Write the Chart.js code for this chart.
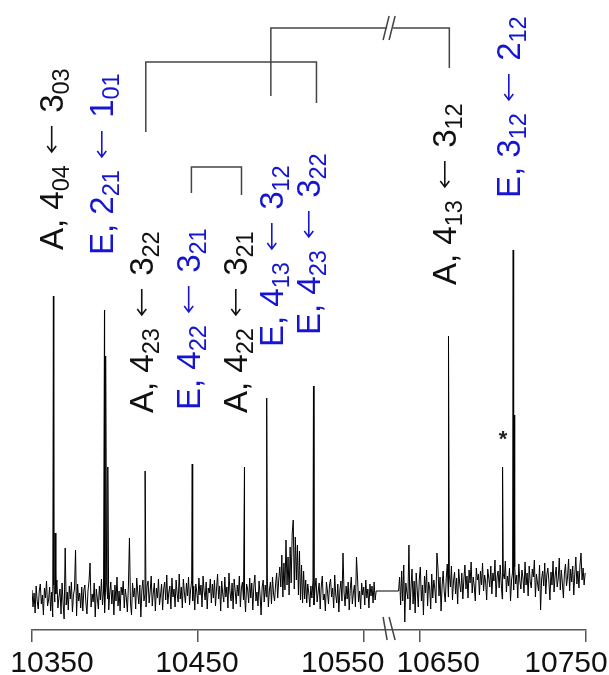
<!DOCTYPE html>
<html>
<head>
<meta charset="utf-8">
<script src="https://cdn.jsdelivr.net/npm/chart.js@4.4.1/dist/chart.umd.min.js"></script>
<style>
  html, body { margin: 0; padding: 0; background: #fff; }
  canvas { display: block; }
</style>
</head>
<body>
<canvas id="spectrum" width="609" height="675"></canvas>
<script>
// two recorded windows, sampled every 0.625 cm-1
const leftStart = 10350, rightStart = 10637, gridStep = 0.625;

// baseline noise, left window (10350 - 10557.5)
const leftNoise = [
  5, -12, 2, -18, 9, -6, -14, 4, 11, -9, 0, -20, 7, -3, 14, -11,
  -5, 8, -16, 3, -22, 10, -7, 1, 15, -13, -2, 6, -19, 12, -8, -24,
  47, -10, 3, -15, 9, -4, 13, -17, 0, 6, 45, -21, 11, -6, 2, -13,
  8, -16, 5, 10, -8, -19, 4, 14, 32, -12, 1, -7, 12, -22, 6, -3,
  -14, 9, -5, 16, -10, 3, -18, 7, 11, -4, -15, 2, 13, -9, 5, -20,
  10, -6, 18, -11, 4, -16, 8, 0, 14, -13, 6, -3, -17, 9, 57, -8,
  -20, 12, -2, 7, -14, 17, 3, -9, 10, -22, 5, 15, -6, 1, -12, 9,
  14, -8, 4, 19, -11, 2, 12, -16, 7, -3, 16, -10, 0, 11, -15, 6,
  13, -5, 20, -9, 3, 9, -14, 17, -2, 6, -12, 15, 1, -7, 21, -4,
  8, -13, 16, 2, -8, 12, -1, 18, -10, 5, 14, -6, 9, -15, 11, 3,
  -9, 17, 0, 10, -12, 19, 4, -5, 13, -14, 7, 2, 16, -8, 11, -3,
  15, -11, 6, 21, -4, 9, -16, 14, 1, -7, 18, -2, 8, -13, 22, 3,
  -6, 12, -14, 16, 4, -9, 10, -1, 19, -12, 7, 13, -5, 2, -17, 11,
  6, -8, 17, -3, 12, -15, 9, 20, -6, 3, -11, 14, 0, -20, 8, 15,
  -7, 10, -2, 16, -12, 5, 13, -9, 18, 1, -6, 11, 22, -3, 15, 28,
  8, 40, -2, 32, 5, 55, 10, 38, 0, 48, 12, 62, 75, 6, 58, 15,
  50, 0, 44, -5, 30, -8, 24, -4, 15, -8, 11, 2, -12, 9, -3, 14,
  -10, 6, 17, -7, 3, 12, -14, 8, 19, -5, 1, -16, 13, 4, -9, 10,
  16, -2, 7, -13, 20, 0, -8, 11, -17, 5, 14, -6, 42, 3, -11, 9,
  -4, 13, -15, 6, 18, -9, 2, 10, -12, 38, 17, -7, 4, -14, 12, 0,
  8, -10, 15, -3, 6, -13, 11, -1, 9, -8, 13, -5, 4
];

// baseline noise, right window (10637 - 10749.5)
const rightNoise = [
  4, 18, -10, 24, -6, 30, -27, 12, 3, -4, 50, -15, 8, 26, -9, 14,
  -18, 22, 5, -12, 16, 28, -6, 10, -20, 19, 2, 25, -11, 13, 7, -14,
  21, -3, 15, 6, -8, 42, 27, -1, 18, -16, 9, 24, 4, -7, 17, 31,
  -2, 20, 8, 29, -5, 14, 23, 1, 17, -9, 26, 11, 3, 22, -4, 16,
  30, 6, 19, -3, 25, 12, 33, 2, 18, 9, -6, 27, 15, 21, 0, 24,
  10, 32, 4, 20, 13, -5, 26, 17, 8, 29, 1, 22, 14, 35, -2, 18,
  24, 7, 30, 12, -4, 21, 16, 34, 3, 19, 9, 27, -6, 15, 23, 5,
  28, 11, 20, -3, 31, 14, 6, 25, 17, 2, 33, 10, 22, -1, 29, 13,
  7, 26, 18, 35, -2, 21, 12, 4, 30, -15, 16, 24, 9, 32, 1, 20,
  27, 14, -5, 23, 10, 34, 3, 19, 28, 8, 16, 37, 5, 25, 12, -3,
  22, 31, 9, 18, 36, 4, 26, 13, 29, 0, 21, 38, 11, 24, 7, 30,
  42, 15, 27, 10, 22
];

// rotational lines (cm-1) and their heights
const linePos = [10362.9, 10363.9, 10393.7, 10394.4, 10395.7, 10418.2, 10446.6,
                 10478.1, 10491.5, 10519.7, 10667.1, 10699.7, 10706.1, 10706.7];
const lineHeight = [299, 62, 285, 239, 128, 124, 131, 128, 197, 209, 259, 128, 345, 180];

// broken axis
const breakAt = 10600, axisGap = 66, breakMark = 10566.5;
const tickValues = [10350, 10450, 10550, 10650, 10750];
const tickLabels = ['10350', '10450', '10550', '10650', '10750'];
const tickNudge = [20, -1, -21, 18, -20];

// assignments
const labelText = [
  'A, 4_{04} ← 3_{03}', 'E, 2_{21} ← 1_{01}', 'A, 4_{23} ← 3_{22}',
  'E, 4_{22} ← 3_{21}', 'A, 4_{22} ← 3_{21}', 'E, 4_{13} ← 3_{12}',
  'E, 4_{23} ← 3_{22}', 'A, 4_{13} ← 3_{12}', 'E, 3_{12} ← 2_{12}'
];
const labelAt = [10368.5, 10398.7, 10422.8, 10451.1, 10479.5, 10501.2, 10523.5, 10671.5, 10710.1];
const labelStart = [250, 255, 413, 410, 413, 347, 335, 285, 198];

const brackets = [
  { from: 10418.6, to: 10521.5, top: 62, left: 132, right: 103 },
  { from: 10494.0, to: 10667.6, top: 28, left: 96, right: 68, cut: true },
  { from: 10446.1, to: 10476.3, top: 167, left: 193, right: 195 }
];

const blue = '#1515d2';
const font = '"Liberation Sans", Arial, sans-serif';
const arrowLen = 26, arrowGap = 4;

const toAxis = w => w > breakAt ? w - axisGap : w;

let points = [];
leftNoise.forEach((v, i) => points.push({ x: leftStart + i * gridStep, y: v }));
rightNoise.forEach((v, i) => points.push({ x: rightStart + i * gridStep, y: v }));
linePos.forEach((w, i) => points.push({ x: w, y: lineHeight[i] }));
points.sort((a, b) => a.x - b.x);
points = points.map(p => ({ x: toAxis(p.x), y: p.y }));

function drawArrow(ctx, x0, len) {
  ctx.beginPath();
  ctx.moveTo(x0 + len, -11);
  ctx.lineTo(x0, -11);
  ctx.moveTo(x0 + 6, -15.5);
  ctx.lineTo(x0, -11);
  ctx.lineTo(x0 + 6, -6.5);
  ctx.stroke();
}

const annotate = {
  id: 'annotate',
  afterDraw(chart) {
    const { ctx } = chart;
    const xs = chart.scales.x;
    const px = w => xs.getPixelForValue(toAxis(w));
    const cx = xs.getPixelForValue(breakMark);
    ctx.save();

    // brackets
    ctx.strokeStyle = '#444';
    ctx.lineWidth = 1.5;
    brackets.forEach(b => {
      const x1 = px(b.from), x2 = px(b.to);
      ctx.beginPath();
      ctx.moveTo(x1, b.left);
      ctx.lineTo(x1, b.top);
      if (b.cut) {
        ctx.lineTo(cx - 4, b.top);
        ctx.moveTo(cx + 2, b.top);
      }
      ctx.lineTo(x2, b.top);
      ctx.lineTo(x2, b.right);
      ctx.stroke();
      if (b.cut) {
        ctx.beginPath();
        ctx.moveTo(cx - 8, b.top + 12); ctx.lineTo(cx - 2, b.top - 12);
        ctx.moveTo(cx - 2, b.top + 12); ctx.lineTo(cx + 4, b.top - 12);
        ctx.stroke();
      }
    });

    // break on the x axis
    ctx.beginPath();
    ctx.moveTo(cx - 8, 617); ctx.lineTo(cx - 4, 640);
    ctx.moveTo(cx - 2, 617); ctx.lineTo(cx + 4, 640);
    ctx.stroke();

    // tick labels
    ctx.fillStyle = '#111';
    ctx.font = '30px ' + font;
    ctx.textAlign = 'center';
    tickValues.forEach((v, i) => {
      ctx.fillText(tickLabels[i], xs.getPixelForValue(toAxis(v)) + tickNudge[i], 672);
    });

    // assignments, rotated, with subscripts
    ctx.textAlign = 'left';
    labelText.forEach((t, i) => {
      ctx.save();
      ctx.translate(px(labelAt[i]), labelStart[i]);
      ctx.rotate(-Math.PI / 2);
      const col = t[0] === 'E' ? blue : '#111';
      ctx.fillStyle = col;
      ctx.strokeStyle = col;
      ctx.lineWidth = 1.6;
      let pos = 0;
      t.split(/_\{|\}/).forEach((part, k) => {
        const sub = k % 2 === 1;
        ctx.font = (sub ? '23.5px ' : '33px ') + font;
        part.split('←').forEach((seg, j) => {
          if (j > 0) {
            drawArrow(ctx, pos + arrowGap, arrowLen);
            pos += arrowLen + 2 * arrowGap;
          }
          ctx.fillText(seg, pos, sub ? 6 : 0);
          pos += ctx.measureText(seg).width;
        });
      });
      ctx.restore();
    });

    // impurity line
    ctx.fillStyle = '#222';
    ctx.font = 'bold 22px ' + font;
    ctx.textAlign = 'center';
    ctx.fillText('*', px(10700), 446);
    ctx.restore();
  }
};

new Chart(document.getElementById('spectrum'), {
  type: 'line',
  data: {
    datasets: [{
      data: points,
      borderColor: '#000',
      borderWidth: 1,
      pointRadius: 0,
      tension: 0
    }]
  },
  options: {
    responsive: false,
    animation: false,
    devicePixelRatio: 1,
    events: [],
    layout: { padding: { left: 32, right: 23, top: 10, bottom: 0 } },
    scales: {
      x: {
        type: 'linear',
        min: 10350,
        max: 10684,
        afterBuildTicks: scale => {
          scale.ticks = tickValues.map(v => ({ value: toAxis(v) }));
        },
        afterFit: scale => { scale.height = 45; },
        ticks: { display: false },
        grid: { drawOnChartArea: false, drawTicks: true, tickLength: 12, color: '#555', lineWidth: 1.5 },
        border: { display: true, color: '#555', width: 1.5 }
      },
      y: {
        display: false,
        min: -35,
        max: 585
      }
    },
    plugins: {
      legend: { display: false },
      tooltip: { enabled: false }
    }
  },
  plugins: [annotate]
});
</script>
</body>
</html>
